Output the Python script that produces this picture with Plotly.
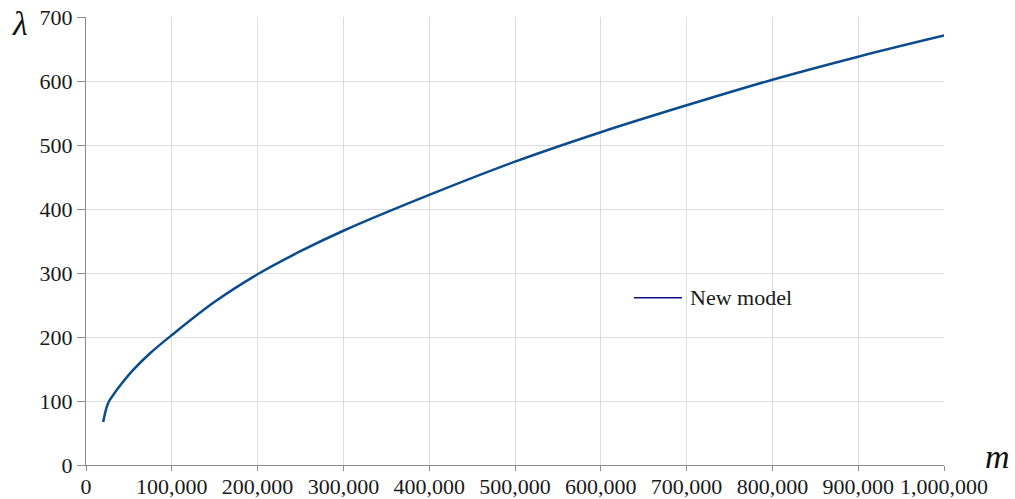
import plotly.graph_objects as go

# Model output: lambda as a function of m
m_values = [20000, 24000, 27000, 32000, 40000, 55000, 75000, 100000, 150000,
            200000, 250000, 300000, 400000, 500000, 600000, 700000, 800000,
            900000, 1000000]
lambda_values = [67, 90, 100, 110, 124.5, 148.5, 175, 203, 255,
                 298, 334, 366, 422, 474, 520, 562, 602,
                 638, 671]

x_ticks = [0, 100000, 200000, 300000, 400000, 500000, 600000, 700000,
           800000, 900000, 1000000]
y_ticks = [0, 100, 200, 300, 400, 500, 600, 700]

FONT = "Liberation Serif"
CURVE_COLOR = "#0a4c8c"
KEY_COLOR = "#10108a"

fig = go.Figure()
fig.add_trace(go.Scatter(
    x=m_values, y=lambda_values, mode="lines", name="New model",
    line=dict(color=CURVE_COLOR, width=2.5, shape="spline", smoothing=1.0),
    showlegend=False, hoverinfo="x+y",
))

axis_common = dict(
    showgrid=True, gridcolor="#dcdcdc", gridwidth=1,
    showline=True, linecolor="#8c8c8c", linewidth=1,
    ticks="outside", tickcolor="#8c8c8c",
    tickfont=dict(family=FONT, size=22, color="#1a1a1a"),
    zeroline=False, automargin=False,
)

# key: short line sample with the series name beside it
key_y = 0.3734
fig.add_shape(type="line", xref="paper", yref="paper",
              x0=0.6387, x1=0.6946, y0=key_y, y1=key_y,
              line=dict(color=KEY_COLOR, width=1.5))

fig.update_layout(
    width=1015, height=499,
    margin=dict(l=86, r=71, t=17, b=34),
    paper_bgcolor="white", plot_bgcolor="white",
    font=dict(family=FONT, size=22, color="#1a1a1a"),
    xaxis=dict(range=[0, 1000000], tickvals=x_ticks, tickformat=",d",
               ticklen=5, ticklabelstandoff=-3, **axis_common),
    yaxis=dict(range=[0, 700], tickvals=y_ticks, ticklen=8, **axis_common),
    showlegend=False,
    annotations=[
        dict(text="New model", xref="paper", yref="paper", x=0.7016, y=key_y,
             xanchor="left", yanchor="middle", showarrow=False,
             font=dict(family=FONT, size=22, color="#1a1a1a")),
        dict(text="<i>λ</i>", xref="paper", yref="paper", x=-0.0775, y=0.985,
             xanchor="center", yanchor="middle", showarrow=False,
             font=dict(family=FONT, size=34, color="#111")),
        dict(text="<i>m</i>", xref="paper", yref="paper", x=1.0618, y=0.02,
             xanchor="center", yanchor="middle", showarrow=False,
             font=dict(family=FONT, size=34, color="#111")),
    ],
)

fig.write_html("out.html")
